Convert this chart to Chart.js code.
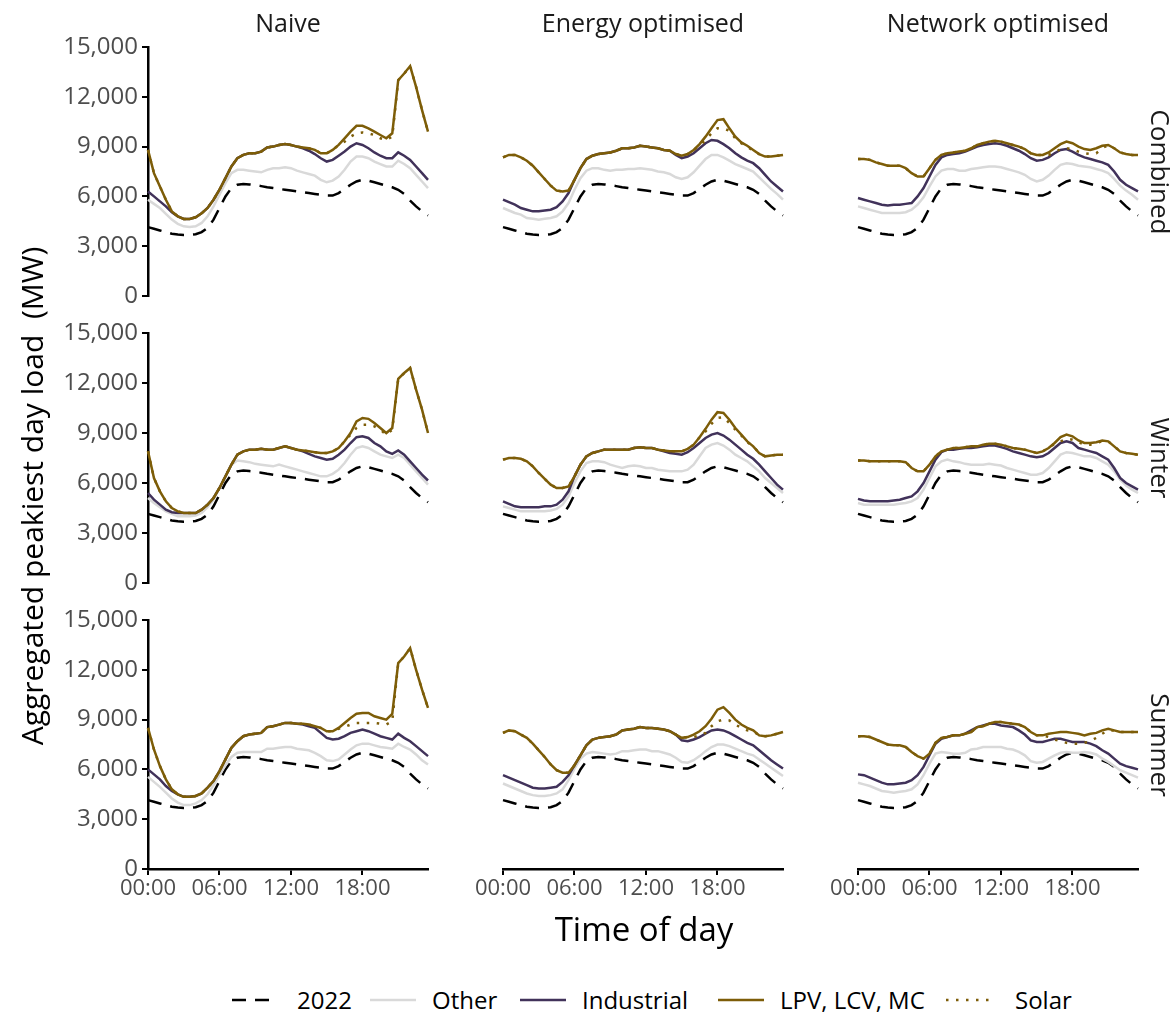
<!DOCTYPE html>
<html><head><meta charset="utf-8">
<script src="https://cdn.jsdelivr.net/npm/chart.js@4.4.1/dist/chart.umd.min.js"></script>
<style>
html,body{margin:0;padding:0;background:#fff;}
body{width:1176px;height:1016px;position:relative;overflow:hidden;font-family:"Open Sans",sans-serif;}
canvas{position:absolute;}
.t{position:absolute;white-space:pre;color:#1a1a1a;text-align:center;}
</style></head><body>
<script>
// ---------- categories ----------
const TIMES = ["00:00","00:30","01:00","01:30","02:00","02:30","03:00","03:30","04:00","04:30","05:00","05:30",
"06:00","06:30","07:00","07:30","08:00","08:30","09:00","09:30","10:00","10:30","11:00","11:30",
"12:00","12:30","13:00","13:30","14:00","14:30","15:00","15:30","16:00","16:30","17:00","17:30",
"18:00","18:30","19:00","19:30","20:00","20:30","21:00","21:30","22:00","22:30","23:00","23:30"];
const SCENARIOS = ["Naive","Energy optimised","Network optimised"];
const SEASONS = ["Combined","Winter","Summer"];
const SERIES_NAMES = ["2022","Other","Industrial","LPV, LCV, MC","Solar"];
const Y_TICKS = [0,3000,6000,9000,12000,15000];
const X_TICK_LABELS = ["00:00","06:00","12:00","18:00"];

// ---------- values (MW) ----------
const LOAD_2022 = [4150,4050,3950,3850,3750,3700,3680,3680,3720,3850,4100,4600,5300,6000,6500,6700,6750,6720,6680,6620,6550,6500,6450,6400,6350,6300,6250,6200,6150,6100,6050,6050,6200,6450,6700,6900,7000,6950,6850,6750,6650,6550,6400,6150,5750,5400,5100,4850];

const OTHER_NAIVE_COMBINED = [5800,5550,5300,4950,4600,4350,4200,4150,4200,4400,4800,5400,6100,6800,7400,7600,7600,7550,7500,7450,7600,7700,7700,7750,7700,7550,7450,7350,7250,7000,6850,6950,7200,7600,8100,8400,8400,8300,8100,7950,7800,7800,8150,7950,7700,7300,6900,6500];
const IND_NAIVE_COMBINED = [6300,6000,5700,5400,5050,4800,4640,4640,4740,4980,5300,5800,6400,7100,7800,8300,8500,8600,8600,8700,8950,9000,9100,9150,9100,9000,8900,8750,8550,8300,8100,8200,8450,8700,9000,9200,9100,8900,8650,8450,8300,8300,8650,8450,8200,7800,7400,7000];
const LPV_NAIVE_COMBINED = [8800,7400,6600,5800,5100,4800,4640,4640,4740,4980,5300,5800,6400,7100,7800,8300,8500,8600,8600,8700,8950,9000,9100,9150,9100,9000,8950,8900,8800,8600,8600,8800,9100,9500,9900,10250,10250,10100,9900,9700,9500,9800,13000,13400,13850,12600,11200,9900];
const SOLAR_NAIVE_COMBINED = [8800,7400,6600,5800,5100,4800,4640,4640,4740,4980,5300,5800,6400,7100,7800,8300,8500,8600,8600,8700,8950,9000,9100,9150,9100,9000,8950,8900,8800,8600,8600,8800,9100,9300,9600,9800,9850,9800,9700,9500,9400,9600,13000,13400,13850,12600,11200,9900];

const OTHER_NAIVE_WINTER = [5100,4800,4550,4300,4150,4000,4000,4000,4050,4200,4550,5000,5700,6400,7100,7350,7300,7250,7150,7100,7050,7000,7100,7000,6900,6800,6700,6600,6500,6400,6400,6550,6800,7200,7700,8100,8200,8100,7900,7700,7600,7500,7700,7500,7100,6700,6300,5900];
const IND_NAIVE_WINTER = [5400,5000,4700,4400,4250,4200,4200,4200,4200,4400,4700,5100,5700,6400,7100,7700,7900,8000,8000,8050,8000,8000,8100,8200,8100,8000,7900,7750,7600,7500,7400,7450,7700,8000,8400,8750,8800,8700,8400,8200,7900,7750,7950,7700,7300,6900,6500,6150];
const LPV_NAIVE_WINTER = [7900,6300,5500,4900,4500,4300,4200,4200,4200,4400,4700,5100,5700,6400,7100,7700,7900,8000,8000,8050,8000,8000,8100,8200,8100,8000,7950,7900,7850,7800,7800,7900,8100,8500,9000,9700,9900,9850,9600,9300,9000,9300,12250,12600,12900,11600,10400,9000];
const SOLAR_NAIVE_WINTER = [7900,6300,5500,4900,4500,4300,4200,4200,4200,4400,4700,5100,5700,6400,7100,7700,7900,8000,8000,8050,8000,8000,8100,8200,8100,8000,7950,7900,7850,7800,7800,7900,8100,8500,8900,9300,9500,9500,9400,9200,8900,9200,12250,12600,12900,11600,10400,9000];

const OTHER_NAIVE_SUMMER = [5550,5250,4950,4600,4250,4000,3850,3850,3950,4150,4500,5050,5650,6250,6750,7000,7050,7050,7050,7050,7250,7250,7300,7350,7350,7250,7200,7150,7000,6800,6550,6500,6600,6900,7200,7450,7550,7550,7450,7350,7300,7250,7550,7350,7200,6900,6550,6300];
const IND_NAIVE_SUMMER = [6000,5700,5400,5000,4700,4500,4350,4350,4400,4550,4900,5300,5900,6600,7300,7700,8000,8100,8150,8200,8550,8600,8700,8800,8800,8750,8700,8600,8500,8200,7900,7800,7850,8000,8200,8300,8400,8300,8150,8000,7900,7800,8150,7900,7700,7400,7100,6800];
const LPV_NAIVE_SUMMER = [8500,7200,6200,5400,4800,4500,4350,4350,4400,4550,4900,5300,5900,6600,7300,7700,8000,8100,8150,8200,8550,8600,8700,8800,8800,8750,8750,8700,8600,8500,8300,8300,8500,8800,9100,9350,9400,9400,9200,9100,9000,9350,12400,12800,13300,12000,10800,9700];
const SOLAR_NAIVE_SUMMER = [8500,7200,6200,5400,4800,4500,4350,4350,4400,4550,4900,5300,5900,6600,7300,7700,8000,8100,8150,8200,8550,8600,8700,8800,8800,8750,8750,8700,8600,8500,8300,8300,8450,8550,8700,8800,8800,8800,8800,8750,8700,8900,12400,12800,13300,12000,10800,9700];

const OTHER_ENERGY_COMBINED = [5300,5150,5000,4900,4700,4650,4600,4650,4700,4800,5100,5600,6400,7100,7550,7700,7700,7600,7550,7600,7600,7650,7650,7700,7650,7600,7500,7450,7350,7150,7050,7150,7450,7850,8250,8500,8500,8350,8150,7950,7800,7650,7500,7150,6800,6450,6150,5800];
const IND_ENERGY_COMBINED = [5800,5650,5500,5300,5200,5100,5100,5150,5200,5350,5700,6200,7000,7700,8250,8450,8550,8600,8650,8750,8900,8900,8950,9050,9000,8950,8900,8800,8750,8500,8300,8400,8600,8900,9200,9400,9350,9150,8900,8600,8350,8150,8000,7700,7300,6900,6600,6300];
const LPV_ENERGY_COMBINED = [8350,8500,8500,8350,8150,7850,7450,7050,6650,6350,6300,6350,7000,7700,8250,8450,8550,8600,8650,8750,8900,8900,8950,9050,9000,8950,8900,8800,8750,8550,8450,8550,8800,9150,9600,10100,10600,10650,10100,9600,9250,9050,8800,8550,8400,8400,8450,8500];
const SOLAR_ENERGY_COMBINED = [8350,8500,8500,8350,8150,7850,7450,7050,6650,6350,6300,6350,7000,7700,8250,8450,8550,8600,8650,8750,8900,8900,8950,9050,9000,8950,8900,8800,8750,8550,8450,8550,8800,9050,9400,9800,10100,10100,9950,9500,9200,9000,8750,8550,8400,8400,8450,8500];

const OTHER_NETWORK_COMBINED = [5400,5300,5200,5100,5000,5000,5000,5000,5050,5200,5500,5950,6600,7200,7550,7650,7650,7550,7550,7650,7700,7750,7800,7800,7750,7650,7550,7450,7300,7050,6900,7000,7250,7600,7900,8000,7950,7850,7800,7750,7650,7550,7400,7050,6650,6350,6100,5800];
const IND_NETWORK_COMBINED = [5900,5800,5700,5600,5500,5450,5500,5500,5550,5600,6000,6500,7200,7900,8350,8500,8550,8600,8700,8850,9000,9100,9150,9200,9150,9050,8900,8750,8550,8300,8150,8200,8350,8600,8800,8850,8700,8500,8350,8250,8150,8050,7900,7500,7000,6700,6500,6300];
const LPV_NETWORK_COMBINED = [8250,8250,8200,8050,7950,7850,7850,7850,7700,7400,7200,7200,7700,8200,8500,8600,8650,8700,8750,8900,9100,9200,9300,9350,9300,9200,9100,9000,8850,8600,8500,8500,8650,8900,9150,9300,9200,9000,8850,8800,8900,9050,9100,8900,8650,8550,8500,8500];
const SOLAR_NETWORK_COMBINED = [8250,8250,8200,8050,7950,7850,7850,7850,7700,7400,7200,7200,7700,8200,8500,8600,8650,8700,8750,8900,9100,9200,9300,9350,9300,9200,9100,9000,8850,8600,8500,8500,8500,8650,8850,8900,8850,8700,8600,8550,8600,8900,9100,8900,8650,8550,8500,8500];

const OTHER_ENERGY_WINTER = [4600,4500,4400,4300,4300,4300,4300,4300,4350,4450,4700,5200,6000,6700,7200,7300,7300,7250,7100,7000,6900,7000,7050,7000,6900,6900,6800,6750,6700,6700,6700,6800,7100,7600,8100,8300,8400,8250,8000,7700,7500,7300,7000,6700,6300,6000,5700,5400];
const IND_ENERGY_WINTER = [4900,4750,4600,4550,4550,4550,4550,4600,4600,4700,5000,5500,6400,7100,7600,7800,7900,8000,8000,8000,8000,8000,8100,8150,8100,8100,8000,7900,7800,7750,7700,7850,8100,8400,8700,8900,9000,8850,8600,8300,8000,7700,7450,7100,6700,6300,5900,5600];
const LPV_ENERGY_WINTER = [7400,7500,7500,7450,7300,7000,6600,6250,5900,5700,5700,5800,6400,7100,7600,7800,7900,8000,8000,8000,8000,8000,8100,8150,8100,8100,8000,7950,7900,7900,7900,8050,8300,8750,9250,9800,10250,10200,9800,9300,8900,8500,8200,7800,7600,7650,7700,7700];
const SOLAR_ENERGY_WINTER = [7400,7500,7500,7450,7300,7000,6600,6250,5900,5700,5700,5800,6400,7100,7600,7800,7900,8000,8000,8000,8000,8000,8100,8150,8100,8100,8000,7950,7900,7900,7900,8050,8300,8750,9100,9550,9900,9950,9600,9200,8850,8450,8200,7800,7600,7650,7700,7700];

const OTHER_NETWORK_WINTER = [4800,4700,4700,4700,4700,4700,4700,4750,4800,4900,5100,5600,6300,7000,7300,7400,7300,7250,7150,7100,7100,7100,7150,7100,7050,6900,6800,6700,6600,6500,6500,6600,6900,7300,7700,7850,7800,7700,7600,7600,7500,7300,7100,6700,6200,5850,5600,5400];
const IND_NETWORK_WINTER = [5050,4950,4900,4900,4900,4900,4950,5000,5100,5200,5500,6000,6700,7400,7850,8000,8000,8050,8100,8100,8150,8200,8250,8250,8150,8050,7900,7800,7700,7600,7550,7600,7800,8100,8400,8500,8400,8100,8000,7900,7800,7600,7400,6900,6300,6000,5800,5600];
const LPV_NETWORK_WINTER = [7350,7350,7300,7300,7300,7300,7300,7300,7250,6900,6700,6700,7100,7600,7900,8000,8100,8100,8150,8200,8200,8300,8350,8350,8300,8200,8100,8050,8000,7900,7800,7900,8100,8400,8750,8900,8800,8550,8400,8400,8450,8550,8500,8200,7900,7800,7750,7700];
const SOLAR_NETWORK_WINTER = [7350,7350,7300,7300,7300,7300,7300,7300,7250,6900,6700,6700,7100,7600,7900,8000,8100,8100,8150,8200,8200,8300,8350,8350,8300,8200,8100,8050,8000,7900,7800,7900,8100,8350,8500,8650,8600,8450,8300,8300,8400,8500,8500,8200,7900,7800,7750,7700];

const OTHER_ENERGY_SUMMER = [5150,5000,4850,4700,4550,4450,4400,4400,4450,4550,4800,5350,6050,6650,6950,7050,7000,6950,6900,6950,7100,7100,7150,7200,7200,7100,7100,7000,6900,6700,6450,6400,6550,6800,7100,7350,7500,7500,7400,7250,7100,6950,6850,6600,6350,6100,5850,5600];
const IND_ENERGY_SUMMER = [5650,5500,5350,5200,5050,4900,4850,4850,4900,4950,5250,5650,6250,6850,7450,7800,7900,7950,8000,8100,8350,8400,8450,8550,8500,8500,8450,8400,8300,8100,7750,7700,7800,7950,8150,8350,8400,8350,8200,8000,7800,7600,7450,7150,6850,6550,6300,6050];
const LPV_ENERGY_SUMMER = [8200,8350,8300,8100,7900,7550,7150,6750,6300,5950,5800,5800,6250,6850,7450,7800,7900,7950,8000,8100,8350,8400,8450,8550,8500,8500,8450,8400,8300,8100,7900,7950,8100,8300,8600,9050,9600,9750,9400,9000,8700,8500,8350,8050,8000,8050,8150,8250];
const SOLAR_ENERGY_SUMMER = [8200,8350,8300,8100,7900,7550,7150,6750,6300,5950,5800,5800,6250,6850,7450,7800,7900,7950,8000,8100,8350,8400,8450,8550,8500,8500,8450,8400,8300,8100,7900,7950,7950,8050,8200,8600,8900,9000,8950,8700,8500,8350,8300,8050,8000,8050,8150,8250];

const OTHER_NETWORK_SUMMER = [5200,5100,5000,4850,4700,4650,4600,4650,4700,4800,5100,5650,6350,6950,7050,7000,6950,6950,7000,7200,7250,7350,7350,7350,7350,7250,7200,7050,6850,6500,6400,6450,6650,6850,7000,7050,7000,7000,7050,7000,6900,6650,6450,6200,5950,5800,5650,5500];
const IND_NETWORK_SUMMER = [5700,5650,5500,5350,5200,5100,5100,5150,5200,5350,5650,6150,6850,7550,7850,7950,8050,8050,8150,8350,8550,8650,8750,8750,8650,8600,8550,8350,8100,7750,7650,7650,7750,7850,7850,7750,7650,7650,7650,7550,7400,7150,6950,6650,6350,6200,6100,6000];
const LPV_NETWORK_SUMMER = [8000,8000,7950,7800,7650,7500,7450,7450,7350,7050,6800,6650,6950,7600,7900,7950,8050,8050,8150,8250,8550,8600,8750,8850,8850,8800,8750,8700,8550,8250,8050,8050,8150,8200,8250,8250,8200,8150,8050,8150,8200,8350,8450,8350,8250,8250,8250,8250];
const SOLAR_NETWORK_SUMMER = [8000,8000,7950,7800,7650,7500,7450,7450,7350,7050,6800,6650,6950,7600,7900,7950,8050,8050,8150,8250,8550,8600,8750,8850,8850,8800,8750,8700,8550,8250,8050,8050,7950,7800,7700,7600,7550,7550,7600,7700,7900,8150,8350,8350,8250,8250,8250,8250];

// ---------- panel table (row = season, col = scenario) ----------
const PANELS = [
  [ {o:OTHER_NAIVE_COMBINED,i:IND_NAIVE_COMBINED,l:LPV_NAIVE_COMBINED,s:SOLAR_NAIVE_COMBINED},
    {o:OTHER_ENERGY_COMBINED,i:IND_ENERGY_COMBINED,l:LPV_ENERGY_COMBINED,s:SOLAR_ENERGY_COMBINED},
    {o:OTHER_NETWORK_COMBINED,i:IND_NETWORK_COMBINED,l:LPV_NETWORK_COMBINED,s:SOLAR_NETWORK_COMBINED} ],
  [ {o:OTHER_NAIVE_WINTER,i:IND_NAIVE_WINTER,l:LPV_NAIVE_WINTER,s:SOLAR_NAIVE_WINTER},
    {o:OTHER_ENERGY_WINTER,i:IND_ENERGY_WINTER,l:LPV_ENERGY_WINTER,s:SOLAR_ENERGY_WINTER},
    {o:OTHER_NETWORK_WINTER,i:IND_NETWORK_WINTER,l:LPV_NETWORK_WINTER,s:SOLAR_NETWORK_WINTER} ],
  [ {o:OTHER_NAIVE_SUMMER,i:IND_NAIVE_SUMMER,l:LPV_NAIVE_SUMMER,s:SOLAR_NAIVE_SUMMER},
    {o:OTHER_ENERGY_SUMMER,i:IND_ENERGY_SUMMER,l:LPV_ENERGY_SUMMER,s:SOLAR_ENERGY_SUMMER},
    {o:OTHER_NETWORK_SUMMER,i:IND_NETWORK_SUMMER,l:LPV_NETWORK_SUMMER,s:SOLAR_NETWORK_SUMMER} ]
];

// ---------- styling / layout ----------
const COLORS = {"2022":"#000000","Other":"#d9d9d9","Industrial":"#41325a","LPV, LCV, MC":"#7d5d08","Solar":"#7d5d08"};
const DASH = {"2022":[14,9],"Solar":[2.5,7.5]};
const FONT = '"Open Sans", sans-serif';
const COL_L = [148, 503, 858];
const PLOT_W = 280;
const ROW_T = [47, 333, 620];
const ROW_B = [296, 583, 869];
const PAD_T = 24;

Chart.defaults.font.family = FONT;

function buildDatasets(p) {
  const src = [LOAD_2022, p.o, p.i, p.l, p.s];
  return SERIES_NAMES.map((name, k) => ({
    label: name,
    data: src[k],
    borderColor: COLORS[name],
    borderDash: DASH[name] || [],
    borderWidth: 2.5,
    pointRadius: 0,
    tension: 0,
    fill: false,
    clip: 4,
    order: 5 - k
  }));
}

function addText(txt, css) {
  const d = document.createElement('div');
  d.className = 't';
  d.textContent = txt;
  Object.assign(d.style, css);
  document.body.appendChild(d);
  return d;
}

for (let r = 0; r < 3; r++) {
  for (let c = 0; c < 3; c++) {
    const showY = c === 0, showX = r === 2;
    const leftPad = showY ? 100 : 32;
    const rightPad = 12;
    const bottomPad = showX ? 46 : 24;
    const w = leftPad + PLOT_W + rightPad;
    const h = PAD_T + (ROW_B[r] - ROW_T[r]) + bottomPad;
    const cv = document.createElement('canvas');
    cv.width = w; cv.height = h;
    cv.style.left = (COL_L[c] - leftPad) + 'px';
    cv.style.top = (ROW_T[r] - PAD_T) + 'px';
    cv.style.width = w + 'px'; cv.style.height = h + 'px';
    document.body.appendChild(cv);
    new Chart(cv, {
      type: 'line',
      data: { labels: TIMES, datasets: buildDatasets(PANELS[r][c]) },
      options: {
        responsive: false, animation: false, devicePixelRatio: 1,
        events: [],
        layout: { padding: { left: showY ? 0 : leftPad, right: rightPad, top: PAD_T, bottom: showX ? 0 : bottomPad } },
        plugins: { legend: { display: false }, tooltip: { enabled: false } },
        scales: {
          x: {
            type: 'category', display: showX, offset: false,
            afterFit: s => { s.height = showX ? 46 : 0; },
            border: { display: true, color: '#000', width: 2.5 },
            grid: { drawOnChartArea: false, drawTicks: true, tickLength: 6, lineWidth: 2,
                    color: ctx => (X_TICK_LABELS.includes(TIMES[ctx.index]) ? '#000' : 'rgba(0,0,0,0)') },
            ticks: { autoSkip: false, maxRotation: 0, minRotation: 0, padding: 1,
                     color: '#4d4d4d', font: { size: 22 },
                     callback: (v, i) => (X_TICK_LABELS.includes(TIMES[i]) ? TIMES[i] : '') }
          },
          y: {
            display: showY, min: Y_TICKS[0], max: Y_TICKS[Y_TICKS.length - 1],
            afterFit: s => { s.width = showY ? 100 : 0; },
            afterBuildTicks: s => { s.ticks = Y_TICKS.map(v => ({ value: v })); },
            border: { display: true, color: '#000', width: 2.5 },
            grid: { drawOnChartArea: false, drawTicks: true, tickLength: 6, lineWidth: 2, color: '#000' },
            ticks: { padding: 4, color: '#4d4d4d', font: { size: 24 },
                     callback: v => v.toLocaleString('en-US') }
          }
        }
      }
    });
  }
}

// column titles
SCENARIOS.forEach((t, c) => addText(t, { left: (COL_L[c] + PLOT_W / 2 - 160) + 'px', width: '320px', top: '6px', fontSize: '25px', lineHeight: '32px' }));
// row strip labels (rotated clockwise)
SEASONS.forEach((t, r) => {
  const cy = (ROW_T[r] + ROW_B[r]) / 2;
  addText(t, { left: (1161 - 100) + 'px', width: '200px', top: (cy - 16) + 'px', fontSize: '26px', lineHeight: '32px', transform: 'rotate(90deg)' });
});
// axis titles
addText('Aggregated peakiest day load  (MW)', { left: (32 - 300) + 'px', width: '600px', top: (496 - 20) + 'px', fontSize: '30px', lineHeight: '40px', transform: 'rotate(-90deg)', color: '#000' });
addText('Time of day', { left: (644 - 200) + 'px', width: '400px', top: (929 - 22) + 'px', fontSize: '33px', lineHeight: '44px', color: '#000' });

// legend
const LEG = [ {name:"2022", sx:232, tx:297}, {name:"Other", sx:370, tx:432}, {name:"Industrial", sx:520, tx:582},
              {name:"LPV, LCV, MC", sx:718, tx:780}, {name:"Solar", sx:946, tx:1015} ];
LEG.forEach(it => {
  const cv = document.createElement('canvas');
  cv.width = 46; cv.height = 10;
  cv.style.left = it.sx + 'px'; cv.style.top = (1000 - 5) + 'px';
  document.body.appendChild(cv);
  const g = cv.getContext('2d');
  g.strokeStyle = COLORS[it.name]; g.lineWidth = 2.5;
  g.setLineDash(DASH[it.name] || []);
  g.beginPath(); g.moveTo(0, 5); g.lineTo(46, 5); g.stroke();
  addText(it.name, { left: it.tx + 'px', top: (1000 - 16) + 'px', fontSize: '24px', lineHeight: '32px', textAlign: 'left', color: '#000' });
});
</script>
</body></html>
